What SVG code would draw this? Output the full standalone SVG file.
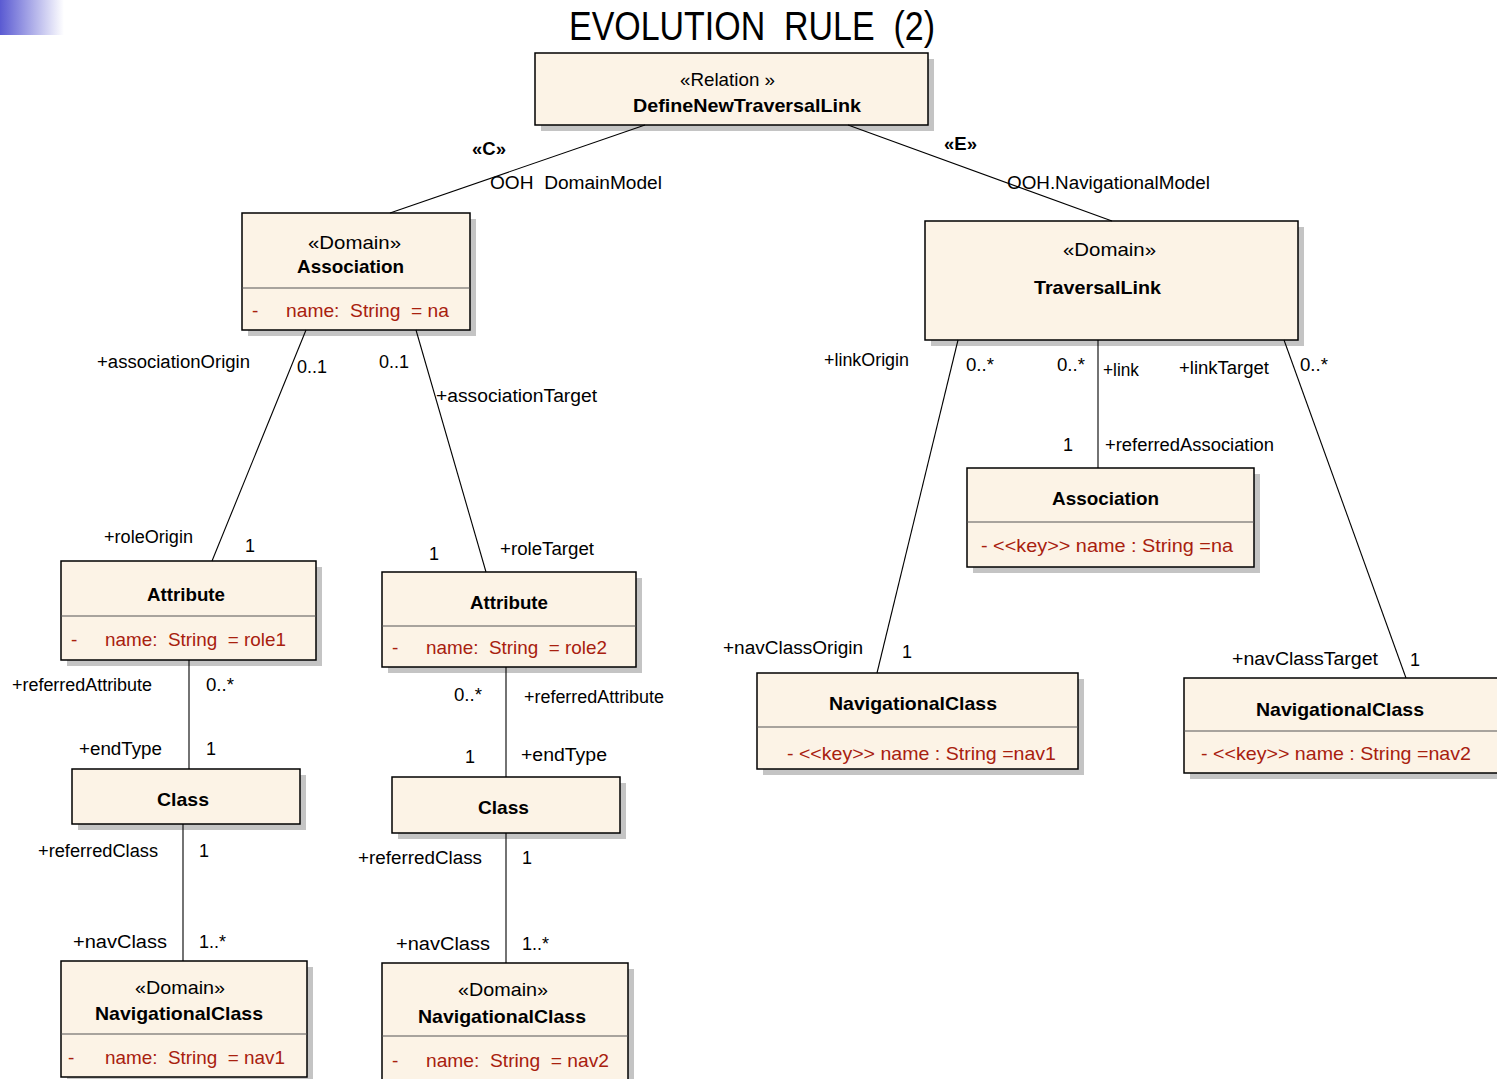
<svg xmlns="http://www.w3.org/2000/svg" width="1497" height="1079" viewBox="0 0 1497 1079">
  <defs>
    <linearGradient id="corner" x1="0" y1="0" x2="1" y2="0">
      <stop offset="0" stop-color="#5a5ad2"/>
      <stop offset="1" stop-color="#ffffff"/>
    </linearGradient>
    <style>
      .box { fill: #fcf3e6; stroke: #000; stroke-width: 1.5; }
      .shadow { fill: #c4c4c4; }
      .sep { stroke: #555; stroke-width: 1.2; }
      .wire { stroke: #000; stroke-width: 1.1; fill: none; }
      text { font-family: "Liberation Sans", Arial, sans-serif; white-space: pre; }
      .lbl { font-size: 18px; fill: #000; }
      .st { font-size: 19px; fill: #000; }
      .nm { font-size: 19px; font-weight: bold; fill: #000; }
      .at { font-size: 19px; fill: #a8200e; }
      .title { font-size: 40px; fill: #000; }
    </style>
  </defs>

  <rect width="1497" height="1079" fill="#fff"/>
  <rect x="0" y="0" width="64" height="35" fill="url(#corner)"/>

  <text class="title" x="569" y="40" textLength="366" lengthAdjust="spacingAndGlyphs">EVOLUTION  RULE  (2)</text>

  <!-- relation -->
  <g id="relation">
    <rect class="shadow" x="541" y="59" width="393" height="72"/>
    <rect class="box" x="535" y="53" width="393" height="72"/>
    <text class="st" x="680" y="86" textLength="95" lengthAdjust="spacingAndGlyphs">«Relation »</text>
    <text class="nm" x="633" y="112" textLength="228" lengthAdjust="spacingAndGlyphs">DefineNewTraversalLink</text>
  </g>

  <!-- domain Association -->
  <g id="domain-association">
    <rect class="shadow" x="248" y="219" width="228" height="117"/>
    <rect class="box" x="242" y="213" width="228" height="117"/>
    <line class="sep" x1="242" y1="288" x2="470" y2="288"/>
    <text class="st" x="308" y="249" textLength="93" lengthAdjust="spacingAndGlyphs">«Domain»</text>
    <text class="nm" x="297" y="273" textLength="107" lengthAdjust="spacingAndGlyphs">Association</text>
    <text class="at" x="252" y="317">-</text>
    <text class="at" x="286" y="317" textLength="163" lengthAdjust="spacingAndGlyphs">name:  String  = na</text>
  </g>

  <!-- domain TraversalLink -->
  <g id="domain-traversallink">
    <rect class="shadow" x="931" y="227" width="373" height="119"/>
    <rect class="box" x="925" y="221" width="373" height="119"/>
    <text class="st" x="1063" y="256" textLength="93" lengthAdjust="spacingAndGlyphs">«Domain»</text>
    <text class="nm" x="1034" y="294" textLength="127" lengthAdjust="spacingAndGlyphs">TraversalLink</text>
  </g>

  <!-- Attribute (origin) -->
  <g id="attribute-origin">
    <rect class="shadow" x="67" y="567" width="255" height="99"/>
    <rect class="box" x="61" y="561" width="255" height="99"/>
    <line class="sep" x1="61" y1="616" x2="316" y2="616"/>
    <text class="nm" x="147" y="601" textLength="78" lengthAdjust="spacingAndGlyphs">Attribute</text>
    <text class="at" x="71" y="646">-</text>
    <text class="at" x="105" y="646" textLength="181" lengthAdjust="spacingAndGlyphs">name:  String  = role1</text>
  </g>

  <!-- Attribute (target) -->
  <g id="attribute-target">
    <rect class="shadow" x="388" y="578" width="254" height="95"/>
    <rect class="box" x="382" y="572" width="254" height="95"/>
    <line class="sep" x1="382" y1="626" x2="636" y2="626"/>
    <text class="nm" x="470" y="609" textLength="78" lengthAdjust="spacingAndGlyphs">Attribute</text>
    <text class="at" x="392" y="654">-</text>
    <text class="at" x="426" y="654" textLength="181" lengthAdjust="spacingAndGlyphs">name:  String  = role2</text>
  </g>

  <!-- Class (origin) -->
  <g id="class-origin">
    <rect class="shadow" x="78" y="775" width="228" height="55"/>
    <rect class="box" x="72" y="769" width="228" height="55"/>
    <text class="nm" x="157" y="806" textLength="52" lengthAdjust="spacingAndGlyphs">Class</text>
  </g>

  <!-- Class (target) -->
  <g id="class-target">
    <rect class="shadow" x="398" y="783" width="228" height="56"/>
    <rect class="box" x="392" y="777" width="228" height="56"/>
    <text class="nm" x="478" y="814" textLength="51" lengthAdjust="spacingAndGlyphs">Class</text>
  </g>

  <!-- domain NavigationalClass (nav1) -->
  <g id="domain-navclass-1">
    <rect class="shadow" x="67" y="967" width="246" height="116"/>
    <rect class="box" x="61" y="961" width="246" height="116"/>
    <line class="sep" x1="61" y1="1034" x2="307" y2="1034"/>
    <text class="st" x="135" y="994" textLength="90" lengthAdjust="spacingAndGlyphs">«Domain»</text>
    <text class="nm" x="95" y="1020" textLength="168" lengthAdjust="spacingAndGlyphs">NavigationalClass</text>
    <text class="at" x="68" y="1064">-</text>
    <text class="at" x="105" y="1064" textLength="180" lengthAdjust="spacingAndGlyphs">name:  String  = nav1</text>
  </g>

  <!-- domain NavigationalClass (nav2) -->
  <g id="domain-navclass-2">
    <rect class="shadow" x="388" y="969" width="246" height="125"/>
    <rect class="box" x="382" y="963" width="246" height="125"/>
    <line class="sep" x1="382" y1="1036" x2="628" y2="1036"/>
    <text class="st" x="458" y="996" textLength="90" lengthAdjust="spacingAndGlyphs">«Domain»</text>
    <text class="nm" x="418" y="1023" textLength="168" lengthAdjust="spacingAndGlyphs">NavigationalClass</text>
    <text class="at" x="392" y="1067">-</text>
    <text class="at" x="426" y="1067" textLength="183" lengthAdjust="spacingAndGlyphs">name:  String  = nav2</text>
  </g>

  <!-- Association (key) -->
  <g id="association">
    <rect class="shadow" x="973" y="474" width="287" height="99"/>
    <rect class="box" x="967" y="468" width="287" height="99"/>
    <line class="sep" x1="967" y1="522" x2="1254" y2="522"/>
    <text class="nm" x="1052" y="505" textLength="107" lengthAdjust="spacingAndGlyphs">Association</text>
    <text class="at" x="981" y="552" textLength="252" lengthAdjust="spacingAndGlyphs">- &lt;&lt;key&gt;&gt; name : String =na</text>
  </g>

  <!-- NavigationalClass (origin) -->
  <g id="navclass-origin">
    <rect class="shadow" x="763" y="679" width="321" height="96"/>
    <rect class="box" x="757" y="673" width="321" height="96"/>
    <line class="sep" x1="757" y1="727" x2="1078" y2="727"/>
    <text class="nm" x="829" y="710" textLength="168" lengthAdjust="spacingAndGlyphs">NavigationalClass</text>
    <text class="at" x="787" y="760" textLength="269" lengthAdjust="spacingAndGlyphs">- &lt;&lt;key&gt;&gt; name : String =nav1</text>
  </g>

  <!-- NavigationalClass (target) -->
  <g id="navclass-target">
    <rect class="shadow" x="1190" y="684" width="330" height="95"/>
    <rect class="box" x="1184" y="678" width="330" height="95"/>
    <line class="sep" x1="1184" y1="731" x2="1514" y2="731"/>
    <text class="nm" x="1256" y="716" textLength="168" lengthAdjust="spacingAndGlyphs">NavigationalClass</text>
    <text class="at" x="1201" y="760" textLength="270" lengthAdjust="spacingAndGlyphs">- &lt;&lt;key&gt;&gt; name : String =nav2</text>
  </g>

  <!-- connectors, drawn over the node shadows -->
  <g id="connectors">
    <line class="wire" x1="645" y1="125" x2="390" y2="213"/>
    <line class="wire" x1="848" y1="125" x2="1112" y2="221"/>
    <line class="wire" x1="306" y1="330" x2="212" y2="561"/>
    <line class="wire" x1="416" y1="330" x2="486" y2="572"/>
    <line class="wire" x1="189" y1="660" x2="189" y2="769"/>
    <line class="wire" x1="183" y1="824" x2="183" y2="961"/>
    <line class="wire" x1="506" y1="667" x2="506" y2="777"/>
    <line class="wire" x1="506" y1="833" x2="506" y2="963"/>
    <line class="wire" x1="958" y1="340" x2="877" y2="673"/>
    <line class="wire" x1="1098" y1="340" x2="1098" y2="468"/>
    <line class="wire" x1="1284" y1="340" x2="1406" y2="678"/>

    <text class="lbl" font-weight="bold" x="472" y="155" textLength="34" lengthAdjust="spacingAndGlyphs">«C»</text>
    <text class="lbl" x="490" y="189" textLength="172" lengthAdjust="spacingAndGlyphs">OOH  DomainModel</text>
    <text class="lbl" font-weight="bold" x="944" y="150" textLength="33" lengthAdjust="spacingAndGlyphs">«E»</text>
    <text class="lbl" x="1007" y="189" textLength="203" lengthAdjust="spacingAndGlyphs">OOH.NavigationalModel</text>

    <text class="lbl" x="97" y="368" textLength="153" lengthAdjust="spacingAndGlyphs">+associationOrigin</text>
    <text class="lbl" x="297" y="373" textLength="30" lengthAdjust="spacingAndGlyphs">0..1</text>
    <text class="lbl" x="379" y="368" textLength="30" lengthAdjust="spacingAndGlyphs">0..1</text>
    <text class="lbl" x="436" y="402" textLength="161" lengthAdjust="spacingAndGlyphs">+associationTarget</text>
    <text class="lbl" x="104" y="543" textLength="89" lengthAdjust="spacingAndGlyphs">+roleOrigin</text>
    <text class="lbl" x="245" y="552">1</text>
    <text class="lbl" x="429" y="560">1</text>
    <text class="lbl" x="500" y="555" textLength="94" lengthAdjust="spacingAndGlyphs">+roleTarget</text>

    <text class="lbl" x="12" y="691" textLength="140" lengthAdjust="spacingAndGlyphs">+referredAttribute</text>
    <text class="lbl" x="206" y="691" textLength="28" lengthAdjust="spacingAndGlyphs">0..*</text>
    <text class="lbl" x="79" y="755" textLength="83" lengthAdjust="spacingAndGlyphs">+endType</text>
    <text class="lbl" x="206" y="755">1</text>
    <text class="lbl" x="38" y="857" textLength="120" lengthAdjust="spacingAndGlyphs">+referredClass</text>
    <text class="lbl" x="199" y="857">1</text>
    <text class="lbl" x="73" y="948" textLength="94" lengthAdjust="spacingAndGlyphs">+navClass</text>
    <text class="lbl" x="199" y="948" textLength="27" lengthAdjust="spacingAndGlyphs">1..*</text>

    <text class="lbl" x="454" y="701" textLength="28" lengthAdjust="spacingAndGlyphs">0..*</text>
    <text class="lbl" x="524" y="703" textLength="140" lengthAdjust="spacingAndGlyphs">+referredAttribute</text>
    <text class="lbl" x="465" y="763">1</text>
    <text class="lbl" x="521" y="761" textLength="86" lengthAdjust="spacingAndGlyphs">+endType</text>
    <text class="lbl" x="358" y="864" textLength="124" lengthAdjust="spacingAndGlyphs">+referredClass</text>
    <text class="lbl" x="522" y="864">1</text>
    <text class="lbl" x="396" y="950" textLength="94" lengthAdjust="spacingAndGlyphs">+navClass</text>
    <text class="lbl" x="522" y="950" textLength="27" lengthAdjust="spacingAndGlyphs">1..*</text>

    <text class="lbl" x="824" y="366" textLength="85" lengthAdjust="spacingAndGlyphs">+linkOrigin</text>
    <text class="lbl" x="966" y="371" textLength="28" lengthAdjust="spacingAndGlyphs">0..*</text>
    <text class="lbl" x="1057" y="371" textLength="28" lengthAdjust="spacingAndGlyphs">0..*</text>
    <text class="lbl" x="1103" y="376" textLength="36" lengthAdjust="spacingAndGlyphs">+link</text>
    <text class="lbl" x="1179" y="374" textLength="90" lengthAdjust="spacingAndGlyphs">+linkTarget</text>
    <text class="lbl" x="1300" y="371" textLength="28" lengthAdjust="spacingAndGlyphs">0..*</text>
    <text class="lbl" x="1063" y="451">1</text>
    <text class="lbl" x="1105" y="451" textLength="169" lengthAdjust="spacingAndGlyphs">+referredAssociation</text>
    <text class="lbl" x="723" y="654" textLength="140" lengthAdjust="spacingAndGlyphs">+navClassOrigin</text>
    <text class="lbl" x="902" y="658">1</text>
    <text class="lbl" x="1232" y="665" textLength="146" lengthAdjust="spacingAndGlyphs">+navClassTarget</text>
    <text class="lbl" x="1410" y="666">1</text>
  </g>
</svg>
